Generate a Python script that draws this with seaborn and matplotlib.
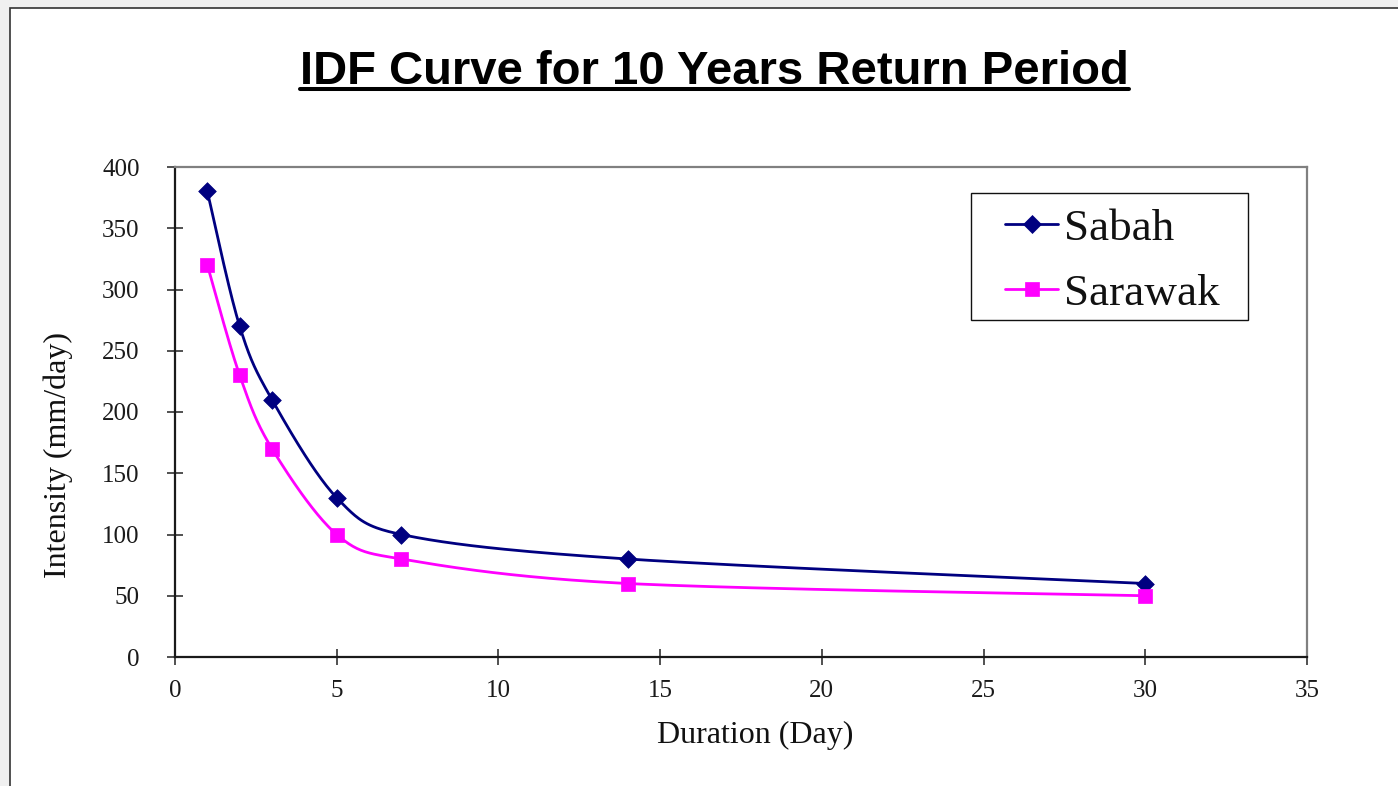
import numpy as np
import pandas as pd
import matplotlib
matplotlib.use("Agg")
import matplotlib.pyplot as plt
from matplotlib.lines import Line2D
from matplotlib.patches import Rectangle
import seaborn as sns

# ---- data ----
duration = [1, 2, 3, 5, 7, 14, 30]
sabah = [380, 270, 210, 130, 100, 80, 60]
sarawak = [320, 230, 170, 100, 80, 60, 50]
series_names = ["Sabah", "Sarawak"]
x_ticks = [0, 5, 10, 15, 20, 25, 30, 35]
y_ticks = [0, 50, 100, 150, 200, 250, 300, 350, 400]
title_text = "IDF Curve for 10 Years Return Period"
x_label = "Duration (Day)"
y_label = "Intensity (mm/day)"

colors = {"Sabah": "#000080", "Sarawak": "#FF00FF"}
markers = {"Sabah": "D", "Sarawak": "s"}
msize = {"Sabah": 9.0, "Sarawak": 10.0}


def excel_smooth_px(P, n=40):
    """Spreadsheet-style Bezier smoothing in display space (rendering only)."""
    P = np.asarray(P, float)
    Q = np.vstack([P[0], P, P[-1]])
    out = []
    for i in range(1, len(Q) - 2):
        p0, p1, p2, p3 = Q[i - 1], Q[i], Q[i + 1], Q[i + 2]
        d12 = np.hypot(*(p2 - p1))
        d02 = np.hypot(*(p2 - p0))
        d13 = np.hypot(*(p3 - p1))
        f0 = 1 / 6 if d02 / 6 < d12 / 2 else d12 / (2 * d02)
        f1 = 1 / 6 if d13 / 6 < d12 / 2 else d12 / (2 * d13)
        c1 = p1 + f0 * (p2 - p0)
        c2 = p2 - f1 * (p3 - p1)
        t = np.linspace(0, 1, n)[:, None]
        seg = ((1 - t) ** 3) * p1 + 3 * ((1 - t) ** 2) * t * c1 + 3 * (1 - t) * t ** 2 * c2 + t ** 3 * p2
        out.append(seg if i == 1 else seg[1:])
    return np.vstack(out)


sns.set_theme(style="white")
plt.rcParams["font.family"] = ["Liberation Serif", "DejaVu Serif"]

fig = plt.figure(figsize=(13.98, 7.86), dpi=100, facecolor="#f0f0f0")
W, H = 1398, 786
panel = Rectangle((10 / W, -0.1), 1.2, 1.1 - 8.5 / H, transform=fig.transFigure,
                  facecolor="white", edgecolor="#333333", linewidth=1.2, zorder=-10)
fig.add_artist(panel)

ax = fig.add_axes([175 / W, 1 - 657 / H, (1307 - 175) / W, (657 - 167) / H])
ax.set_facecolor("white")
ax.set_xlim(0, 35)
ax.set_ylim(0, 400)

for name, vals in zip(series_names, [sabah, sarawak]):
    disp = ax.transData.transform(np.column_stack([duration, vals]))
    curve = ax.transData.inverted().transform(excel_smooth_px(disp))
    df_line = pd.DataFrame({"x": curve[:, 0], "y": curve[:, 1]})
    sns.lineplot(data=df_line, x="x", y="y", sort=False, estimator=None, ax=ax,
                 color=colors[name], linewidth=2.0, legend=False, zorder=3)
    df_pts = pd.DataFrame({"x": duration, "y": vals})
    sns.scatterplot(data=df_pts, x="x", y="y", ax=ax, marker=markers[name],
                    s=msize[name] ** 2, color=colors[name], edgecolor=colors[name],
                    linewidth=0.5, legend=False, zorder=4)

ax.set_xlim(0, 35)
ax.set_ylim(0, 400)
ax.set_xticks(x_ticks)
ax.set_yticks(y_ticks)
ax.set_xticklabels([str(v) for v in x_ticks])
ax.set_yticklabels([str(v) for v in y_ticks])

for side in ["left", "bottom"]:
    ax.spines[side].set_color("#1a1a1a")
    ax.spines[side].set_linewidth(1.6)
for side in ["top", "right"]:
    ax.spines[side].set_color("#808080")
    ax.spines[side].set_linewidth(1.6)
    ax.spines[side].set_visible(True)

ax.tick_params(axis="x", which="major", direction="inout", length=11, width=1.2,
               color="#333333", labelsize=18, pad=11, bottom=True, top=False,
               labelcolor="#1a1a1a")
ax.tick_params(axis="y", which="major", direction="inout", length=11, width=1.2,
               color="#333333", labelsize=18, pad=20, left=True, right=False,
               labelcolor="#1a1a1a")

ax.set_xlabel(x_label, fontsize=23, color="#111111")
ax.set_ylabel(y_label, fontsize=23, color="#111111")
ax.xaxis.set_label_coords((755 - 175) / 1132, (657 - 721) / 490)
ax.yaxis.set_label_coords((73 - 175) / 1132, (657 - 455) / 490)

# legend (contents) + box
handles = [Line2D([0], [0], color=colors[n], linewidth=2.0, marker=markers[n],
                  markersize=msize[n], markeredgecolor=colors[n], markeredgewidth=0.5)
           for n in series_names]
leg = ax.legend(handles, series_names, loc="upper left",
                bbox_to_anchor=((1005 - 175) / 1132, (657 - 208) / 490),
                borderaxespad=0, borderpad=0, frameon=False,
                prop={"family": ["Liberation Serif"], "size": 32.5},
                handlelength=1.18, handletextpad=0.12, labelspacing=0.54)
for t in leg.get_texts():
    t.set_color("#111111")
ax.add_patch(Rectangle(((971 - 175) / 1132, (657 - 320) / 490), (1248 - 971) / 1132,
                       (320 - 193) / 490, transform=ax.transAxes, facecolor="none",
                       edgecolor="#111111", linewidth=1.0, zorder=5, clip_on=False))

# title with underline
title = fig.text(714.5 / W, 1 - 84 / H, title_text, ha="center", va="baseline",
                 fontsize=34, fontweight="bold", family=["Liberation Sans", "DejaVu Sans"],
                 color="black")
fig.canvas.draw()
bb = title.get_window_extent(fig.canvas.get_renderer())
fig.add_artist(Line2D([bb.x0 / W, bb.x1 / W], [1 - 89 / H, 1 - 89 / H],
                      transform=fig.transFigure, color="black", linewidth=2.9))

fig.savefig("out.png", dpi=100, facecolor=fig.get_facecolor())
